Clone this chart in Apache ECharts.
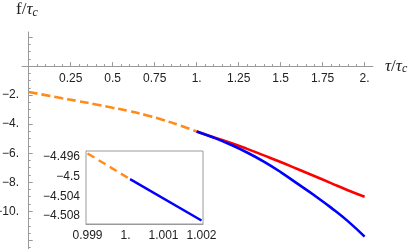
<!DOCTYPE html>
<html>
<head>
<meta charset="utf-8">
<script src="https://cdn.jsdelivr.net/npm/echarts@6/dist/echarts.min.js"></script>
<style>html,body{margin:0;padding:0;background:#fff}#c{width:417px;height:249px}</style>
</head>
<body>
<div id="c"></div>
<script>
// ---- data ----
const orangeX = [0, 0.1, 0.2, 0.3, 0.4, 0.5, 0.6, 0.7, 0.8, 0.9, 1.0];
const orangeY = [-1.78, -2.0, -2.22, -2.42, -2.64, -2.87, -3.10, -3.38, -3.71, -4.08, -4.5];
const bigX = [1.0, 1.1, 1.2, 1.3, 1.4, 1.5, 1.6, 1.7, 1.8, 1.9, 2.0];
const blueY = [-4.5, -4.92, -5.40, -5.95, -6.58, -7.30, -8.10, -8.90, -9.75, -10.68, -11.75];
const redY = [-4.5, -4.9, -5.28, -5.70, -6.15, -6.61, -7.09, -7.57, -8.06, -8.55, -9.0];
const insetOrangeX = [0.999, 1.00012];
const insetOrangeY = [-4.4953, -4.5005];
const insetBlueX = [1.00012, 1.002];
const insetBlueY = [-4.5005, -4.5089];

const xTickVals = [0.25, 0.5, 0.75, 1, 1.25, 1.5, 1.75, 2];
const xTickLabels = ['0.25', '0.5', '0.75', '1.', '1.25', '1.5', '1.75', '2.'];
const yTickVals = [-2, -4, -6, -8, -10];
const yTickLabels = ['\u22122.', '\u22124.', '\u22126.', '\u22128.', '\u221210.'];
const insetXVals = [0.999, 1, 1.001, 1.002];
const insetXLabels = ['0.999', '1.', '1.001', '1.002'];
const insetYVals = [-4.496, -4.5, -4.504, -4.508];
const insetYLabels = ['\u22124.496', '\u22124.5', '\u22124.504', '\u22124.508'];

const xMajor = [0, 0.25, 0.5, 0.75, 1, 1.25, 1.5, 1.75, 2];
const xMinor = [];
for (let i = 0; i <= 40; i++) xMinor.push(+(i * 0.05).toFixed(2));
const yMajor = [2, 0, -2, -4, -6, -8, -10, -12];
const yMinor = [];
for (let i = 4; i >= -25; i--) yMinor.push(i * 0.5);

const X_MIN = -0.04, X_MAX = 2.05, Y_MIN = -12.6, Y_MAX = 2.35;

function zip(a, b) { return a.map((v, i) => [v, b[i]]); }
function fmt(vals, labels) {
  return function (v) {
    const i = vals.findIndex(t => Math.abs(t - v) < 1e-9);
    return i >= 0 ? labels[i] : '';
  };
}

const AX = '#9a9a9a';
const TXT = '#222';
const FONT = 'Liberation Sans';
const FS = 12;

function nameRich(size) {
  return {
    a: { fontFamily: 'Liberation Serif', fontSize: size, fontWeight: 'normal', color: '#222' },
    t: { fontFamily: 'Liberation Serif', fontStyle: 'italic', fontSize: size, fontWeight: 'normal', color: '#222' },
    s: { fontFamily: 'Liberation Serif', fontStyle: 'italic', fontSize: 12, fontWeight: 'normal', color: '#222', verticalAlign: 'bottom', padding: [6, 0, 0, 0] }
  };
}

function buildOption(xOffset) {
  return {
    animation: false,
    backgroundColor: '#fff',
    title: {
      text: '{a|f/}{t|τ}{s|c}', left: 16, top: 1, padding: 0,
      textStyle: { fontWeight: 'normal', rich: nameRich(17) }
    },
    grid: [
      { left: 22, top: 32, width: 351, height: 217, containLabel: false, outerBoundsMode: 'none' },
      { left: 86, top: 151, width: 117, height: 73, show: true, borderColor: AX, borderWidth: 1, backgroundColor: '#fff', z: 5, containLabel: false, outerBoundsMode: 'none' }
    ],
    xAxis: [
      {
        type: 'value', gridIndex: 0, position: 'bottom', min: X_MIN, max: X_MAX, offset: xOffset,
        axisLine: { onZero: false, lineStyle: { color: AX, width: 1 } },
        axisTick: { show: true, inside: true, length: 4, customValues: xMajor, lineStyle: { color: AX } },
        axisLabel: { customValues: xTickVals, formatter: fmt(xTickVals, xTickLabels), margin: 7, color: TXT, fontSize: FS, fontFamily: FONT },
        splitLine: { show: false },
        name: '{t|τ}{a|/}{t|τ}{s|c}', nameLocation: 'end', nameGap: 12,
        nameTextStyle: { rich: nameRich(17), align: 'left', verticalAlign: 'middle' }
      },
      {
        type: 'value', gridIndex: 0, position: 'bottom', min: X_MIN, max: X_MAX, offset: xOffset,
        axisLine: { show: false, onZero: false },
        axisTick: { show: true, inside: true, length: 2, customValues: xMinor, lineStyle: { color: AX } },
        axisLabel: { show: false },
        splitLine: { show: false }
      },
      {
        type: 'value', gridIndex: 1, min: 0.99896, max: 1.00204, position: 'bottom',
        axisLine: { onZero: false, lineStyle: { color: AX } },
        axisTick: { inside: true, length: 3, customValues: insetXVals, lineStyle: { color: AX } },
        axisLabel: { customValues: insetXVals, formatter: fmt(insetXVals, insetXLabels), margin: 6, color: TXT, fontSize: FS, fontFamily: FONT },
        splitLine: { show: false }
      }
    ],
    yAxis: [
      {
        type: 'value', gridIndex: 0, position: 'left', min: Y_MIN, max: Y_MAX,
        axisLine: { onZero: true, onZeroAxisIndex: 0, lineStyle: { color: AX, width: 1 } },
        axisTick: { show: true, inside: true, length: 4, customValues: yMajor, lineStyle: { color: AX } },
        axisLabel: { customValues: yTickVals, formatter: fmt(yTickVals, yTickLabels), margin: 3, color: TXT, fontSize: FS, fontFamily: FONT },
        splitLine: { show: false }
      },
      {
        type: 'value', gridIndex: 0, position: 'left', min: Y_MIN, max: Y_MAX,
        axisLine: { show: false, onZero: true, onZeroAxisIndex: 1 },
        axisTick: { show: true, inside: true, length: 2, customValues: yMinor, lineStyle: { color: AX } },
        axisLabel: { show: false },
        splitLine: { show: false }
      },
      {
        type: 'value', gridIndex: 1, min: -4.5096, max: -4.4948, position: 'left',
        axisLine: { onZero: false, lineStyle: { color: AX } },
        axisTick: { inside: true, length: 3, customValues: insetYVals, lineStyle: { color: AX } },
        axisLabel: { customValues: insetYVals, formatter: fmt(insetYVals, insetYLabels), margin: 6, color: TXT, fontSize: FS, fontFamily: FONT },
        splitLine: { show: false }
      }
    ],
    series: [
      { type: 'line', xAxisIndex: 0, yAxisIndex: 0, data: zip(orangeX, orangeY), smooth: true, showSymbol: false,
        lineStyle: { color: '#ff8c1a', width: 2.6, type: [9, 4] }, z: 3 },
      { type: 'line', xAxisIndex: 0, yAxisIndex: 0, data: zip(bigX, redY), smooth: true, showSymbol: false,
        lineStyle: { color: '#ff0000', width: 2.6 }, z: 3 },
      { type: 'line', xAxisIndex: 0, yAxisIndex: 0, data: zip(bigX, blueY), smooth: true, showSymbol: false,
        lineStyle: { color: '#0000ff', width: 2.6 }, z: 4 },
      { type: 'line', xAxisIndex: 2, yAxisIndex: 2, data: zip(insetOrangeX, insetOrangeY), showSymbol: false,
        lineStyle: { color: '#ff8c1a', width: 2.4, type: [8, 5] }, z: 6 },
      { type: 'line', xAxisIndex: 2, yAxisIndex: 2, data: zip(insetBlueX, insetBlueY), showSymbol: false,
        lineStyle: { color: '#0000ff', width: 2.4 }, z: 6 }
    ]
  };
}

const chart = echarts.init(document.getElementById('c'), null, { renderer: 'canvas' });
chart.setOption(buildOption(0));
// place the main x axis line at y = 0 using the library's own y scale
const yZeroPx = chart.convertToPixel({ yAxisIndex: 0 }, 0);
const yBottomPx = chart.convertToPixel({ yAxisIndex: 0 }, Y_MIN);
chart.setOption(buildOption(yZeroPx - yBottomPx));
</script>
</body>
</html>
